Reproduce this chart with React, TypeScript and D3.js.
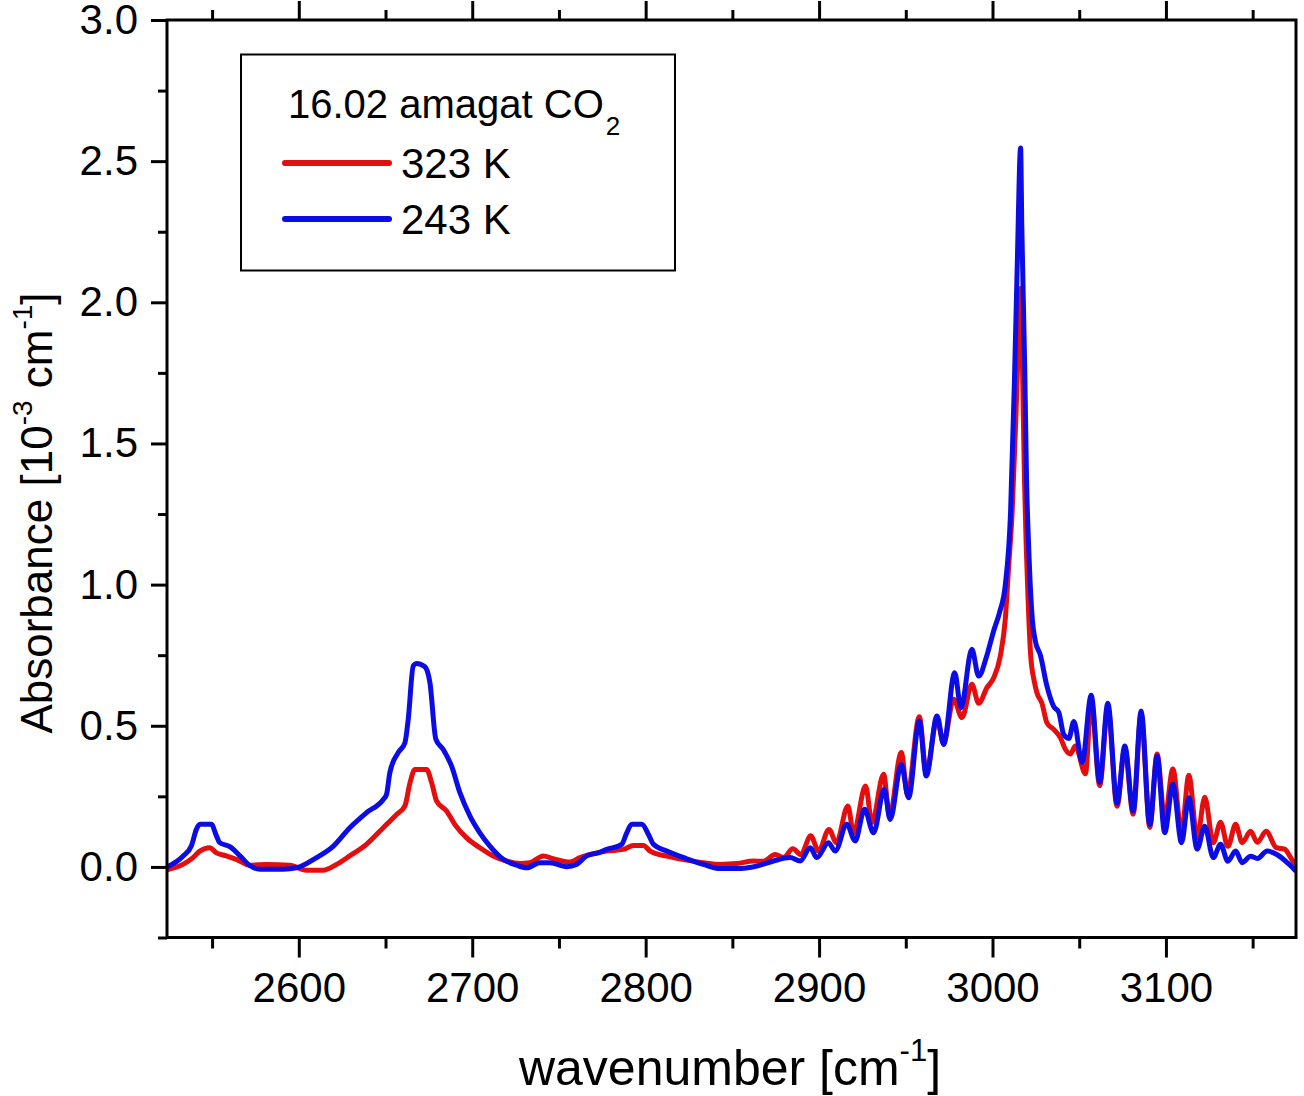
import { useEffect, useRef } from 'react'
import * as d3 from 'd3'

type Pt = [number, number]

// wavenumber [cm-1], absorbance [10^-3 cm-1]
const red323K: Pt[] = [
  [2524.0, -0.010], [2533.2, 0.009], [2539.0, 0.033], [2542.9, 0.056], [2548.6, 0.068],
  [2552.5, 0.050], [2558.3, 0.039], [2564.0, 0.027], [2571.7, 0.006], [2581.4, 0.009],
  [2594.8, 0.006], [2604.4, -0.012], [2614.0, -0.012], [2621.8, 0.009], [2629.4, 0.039],
  [2639.0, 0.080], [2648.7, 0.139], [2656.4, 0.186], [2661.2, 0.216], [2664.1, 0.298],
  [2667.0, 0.345], [2673.7, 0.345], [2676.6, 0.298], [2679.5, 0.233], [2685.2, 0.198],
  [2690.0, 0.150], [2696.8, 0.103], [2704.4, 0.068], [2712.1, 0.039], [2719.8, 0.021],
  [2727.5, 0.012], [2733.3, 0.015], [2741.0, 0.039], [2746.7, 0.029], [2756.4, 0.017],
  [2762.1, 0.033], [2767.9, 0.044], [2777.6, 0.056], [2787.1, 0.062], [2793.0, 0.076],
  [2798.7, 0.076], [2802.6, 0.056], [2812.2, 0.038], [2823.7, 0.024], [2833.3, 0.015],
  [2842.9, 0.009], [2852.6, 0.012], [2862.2, 0.021], [2867.9, 0.020], [2874.7, 0.044],
  [2879.5, 0.033], [2884.9, 0.064], [2889.5, 0.044], [2895.2, 0.110], [2899.7, 0.056],
  [2905.7, 0.133], [2910.0, 0.086], [2916.6, 0.216], [2919.9, 0.121], [2926.8, 0.287],
  [2930.5, 0.157], [2937.2, 0.328], [2940.6, 0.180], [2947.4, 0.405], [2951.0, 0.257],
  [2957.8, 0.532], [2961.8, 0.334], [2968.0, 0.522], [2971.8, 0.440], [2977.6, 0.594],
  [2982.4, 0.529], [2988.1, 0.647], [2992.0, 0.580], [2996.8, 0.635], [3000.7, 0.670],
  [3004.5, 0.747], [3007.4, 0.880], [3009.3, 1.064], [3011.3, 1.254], [3013.5, 1.600],
  [3015.2, 1.900], [3016.4, 2.050], [3017.5, 1.700], [3018.4, 1.380], [3019.5, 1.127],
  [3020.5, 0.950], [3022.0, 0.750], [3024.0, 0.660], [3025.6, 0.617], [3028.5, 0.580],
  [3031.4, 0.510], [3035.3, 0.487], [3039.1, 0.458], [3042.0, 0.417], [3044.9, 0.400],
  [3047.8, 0.428], [3053.6, 0.330], [3056.9, 0.590], [3061.8, 0.288], [3066.5, 0.565],
  [3071.8, 0.215], [3076.3, 0.420], [3081.1, 0.187], [3085.7, 0.540], [3090.7, 0.140],
  [3094.9, 0.400], [3099.3, 0.170], [3104.0, 0.347], [3109.0, 0.121], [3113.2, 0.325],
  [3118.0, 0.103], [3122.4, 0.247], [3127.3, 0.086], [3131.5, 0.158], [3135.7, 0.073],
  [3140.2, 0.151], [3144.0, 0.086], [3148.8, 0.126], [3152.7, 0.087], [3157.8, 0.126],
  [3163.6, 0.068], [3168.4, 0.063], [3173.2, 0.021], [3175.0, 0.010],
]

const blue243K: Pt[] = [
  [2524.0, 0.000], [2533.2, 0.038], [2538.1, 0.075], [2541.0, 0.134], [2543.0, 0.151],
  [2549.6, 0.151], [2552.5, 0.110], [2554.4, 0.086], [2560.2, 0.072], [2566.0, 0.040],
  [2571.7, 0.005], [2577.5, -0.008], [2591.0, -0.008], [2598.7, -0.003], [2610.2, 0.033],
  [2619.8, 0.073], [2629.4, 0.139], [2639.0, 0.192], [2648.7, 0.239], [2650.6, 0.257],
  [2652.5, 0.334], [2657.3, 0.405], [2661.2, 0.440], [2663.1, 0.523], [2666.0, 0.712],
  [2668.0, 0.721], [2672.7, 0.709], [2675.6, 0.653], [2679.0, 0.453], [2683.3, 0.416],
  [2688.1, 0.357], [2692.9, 0.263], [2698.7, 0.180], [2704.4, 0.121], [2710.2, 0.074],
  [2717.9, 0.027], [2725.6, 0.006], [2731.4, -0.003], [2739.1, 0.015], [2744.8, 0.015],
  [2754.5, 0.001], [2760.2, 0.009], [2766.0, 0.039], [2772.7, 0.050], [2777.6, 0.062],
  [2786.2, 0.080], [2789.1, 0.121], [2792.0, 0.151], [2797.8, 0.151], [2801.6, 0.115],
  [2804.5, 0.080], [2812.2, 0.056], [2823.7, 0.029], [2833.3, 0.009], [2842.9, -0.006],
  [2852.6, -0.006], [2864.1, 0.003], [2873.7, 0.021], [2883.3, 0.033], [2889.1, 0.021],
  [2894.9, 0.068], [2898.7, 0.033], [2905.4, 0.086], [2909.3, 0.056], [2916.0, 0.151],
  [2920.8, 0.092], [2926.2, 0.204], [2931.4, 0.121], [2937.6, 0.275], [2941.0, 0.168],
  [2947.4, 0.363], [2951.6, 0.245], [2957.8, 0.517], [2961.8, 0.322], [2968.0, 0.535],
  [2971.8, 0.434], [2978.2, 0.688], [2981.8, 0.564], [2988.1, 0.771], [2992.0, 0.676],
  [2996.8, 0.750], [3000.6, 0.835], [3004.0, 0.900], [3007.4, 1.000], [3010.4, 1.254],
  [3012.6, 1.710], [3014.3, 2.140], [3016.2, 2.547], [3016.9, 2.267], [3018.6, 1.760],
  [3019.6, 1.380], [3020.9, 1.127], [3023.0, 0.874], [3024.7, 0.800], [3027.6, 0.750],
  [3031.4, 0.640], [3035.3, 0.568], [3038.2, 0.548], [3041.0, 0.470], [3044.0, 0.455],
  [3046.9, 0.515], [3051.7, 0.370], [3056.9, 0.608], [3061.8, 0.300], [3066.5, 0.580],
  [3071.8, 0.225], [3076.3, 0.428], [3081.1, 0.198], [3085.7, 0.552], [3090.7, 0.150],
  [3094.9, 0.392], [3099.3, 0.121], [3104.0, 0.293], [3109.0, 0.086], [3113.2, 0.245],
  [3118.0, 0.063], [3122.4, 0.144], [3127.3, 0.033], [3131.5, 0.080], [3135.7, 0.020],
  [3140.2, 0.056], [3144.0, 0.015], [3148.8, 0.038], [3152.7, 0.030], [3158.4, 0.056],
  [3164.2, 0.043], [3170.0, 0.015], [3175.0, -0.015],
]

const seriesLabels = ['323 K', '243 K']
const seriesColors = ['#e50e0e', '#0c0ce6']
const legendTitle = '16.02 amagat CO'

const xMajorTicks = [2600, 2700, 2800, 2900, 3000, 3100]
const xMinorTicks = [2550, 2650, 2750, 2850, 2950, 3050, 3150]
const yMajorTicks = [0, 0.5, 1.0, 1.5, 2.0, 2.5, 3.0]
const yMinorTicks = [-0.25, 0.25, 0.75, 1.25, 1.75, 2.25, 2.75]

const W = 1304
const H = 1096
const FONT = "'Liberation Sans', Arial, Helvetica, sans-serif"

export default function App() {
  const svgRef = useRef<SVGSVGElement | null>(null)

  useEffect(() => {
    if (!svgRef.current) return
    const svg = d3.select(svgRef.current)
    svg.selectAll('*').remove()

    const x = d3.scaleLinear().domain([2524, 3175]).range([167, 1296])
    const y = d3.scaleLinear().domain([-0.25, 3.0]).range([937.5, 20])
    const [x0, x1] = x.range()
    const [y1, y0] = y.range()

    svg.append('clipPath').attr('id', 'plot-clip')
      .append('rect')
      .attr('x', x0).attr('y', y0)
      .attr('width', x1 - x0).attr('height', y1 - y0)

    const line = d3.line<Pt>()
      .x(d => x(d[0]))
      .y(d => y(d[1]))
      .curve(d3.curveMonotoneX)

    const data = [red323K, blue243K]
    data.forEach((s, i) => {
      svg.append('path')
        .datum(s)
        .attr('clip-path', 'url(#plot-clip)')
        .attr('fill', 'none')
        .attr('stroke', seriesColors[i])
        .attr('stroke-width', 5)
        .attr('stroke-linejoin', 'round')
        .attr('d', line)
    })

    const styleAxis = (g: any) => {
      g.select('.domain').remove()
      g.attr('font-family', FONT)
      g.selectAll('line').attr('stroke', '#000').attr('stroke-width', 3)
      g.selectAll('text').attr('fill', '#000').attr('font-size', 42)
    }

    // bottom
    svg.append('g').attr('transform', `translate(0,${y1})`)
      .call(d3.axisBottom(x).tickValues(xMajorTicks).tickSize(20).tickPadding(15).tickFormat(d3.format('d')))
      .call(styleAxis)
    svg.append('g').attr('transform', `translate(0,${y1})`)
      .call(d3.axisBottom(x).tickValues(xMinorTicks).tickSize(11).tickFormat(() => ''))
      .call(styleAxis)

    // top (mirror ticks, no labels)
    svg.append('g').attr('transform', `translate(0,${y0})`)
      .call(d3.axisTop(x).tickValues(xMajorTicks).tickSize(19).tickFormat(() => ''))
      .call(styleAxis)
    svg.append('g').attr('transform', `translate(0,${y0})`)
      .call(d3.axisTop(x).tickValues(xMinorTicks).tickSize(10).tickFormat(() => ''))
      .call(styleAxis)

    // left
    svg.append('g').attr('transform', `translate(${x0},0)`)
      .call(d3.axisLeft(y).tickValues(yMajorTicks).tickSize(16).tickPadding(13).tickFormat(d3.format('.1f')))
      .call(styleAxis)
    svg.append('g').attr('transform', `translate(${x0},0)`)
      .call(d3.axisLeft(y).tickValues(yMinorTicks).tickSize(9).tickFormat(() => ''))
      .call(styleAxis)

    // frame
    svg.append('rect')
      .attr('x', x0).attr('y', y0)
      .attr('width', x1 - x0).attr('height', y1 - y0)
      .attr('fill', 'none')
      .attr('stroke', '#000')
      .attr('stroke-width', 3)

    // legend
    const lg = svg.append('g').attr('font-family', FONT).attr('fill', '#000')
    lg.append('rect')
      .attr('x', 241).attr('y', 54.5)
      .attr('width', 434).attr('height', 216)
      .attr('fill', '#fff')
      .attr('stroke', '#000')
      .attr('stroke-width', 2)
    const title = lg.append('text').attr('x', 288).attr('y', 118).attr('font-size', 40)
    title.append('tspan').text(legendTitle)
    title.append('tspan').attr('font-size', 26).attr('dx', 2).attr('dy', 17).text('2')

    seriesLabels.forEach((label, i) => {
      const ly = 163 + i * 56
      lg.append('line')
        .attr('x1', 285).attr('x2', 389)
        .attr('y1', ly).attr('y2', ly)
        .attr('stroke', seriesColors[i])
        .attr('stroke-width', 6)
        .attr('stroke-linecap', 'round')
      lg.append('text')
        .attr('x', 401).attr('y', ly + 15)
        .attr('font-size', 42)
        .text(label)
    })

    // axis titles
    const xt = svg.append('text')
      .attr('x', 730).attr('y', 1085)
      .attr('text-anchor', 'middle')
      .attr('font-family', FONT)
      .attr('font-size', 50)
    xt.append('tspan').text('wavenumber [cm')
    xt.append('tspan').attr('font-size', 31).attr('dy', -24).text('-1')
    xt.append('tspan').attr('dy', 24).text(']')

    const yt = svg.append('text')
      .attr('transform', `translate(52,513) rotate(-90)`)
      .attr('text-anchor', 'middle')
      .attr('font-family', FONT)
      .attr('font-size', 44)
    yt.append('tspan').text('Absorbance [10')
    yt.append('tspan').attr('font-size', 28).attr('dy', -20).text('-3')
    yt.append('tspan').attr('dy', 20).text(' cm')
    yt.append('tspan').attr('font-size', 28).attr('dy', -20).text('-1')
    yt.append('tspan').attr('dy', 20).text(']')
  }, [])

  return (
    <div style={{ position: 'absolute', left: 0, top: 0, background: '#fff' }}>
      <svg ref={svgRef} width={W} height={H} style={{ display: 'block' }} />
    </div>
  )
}
